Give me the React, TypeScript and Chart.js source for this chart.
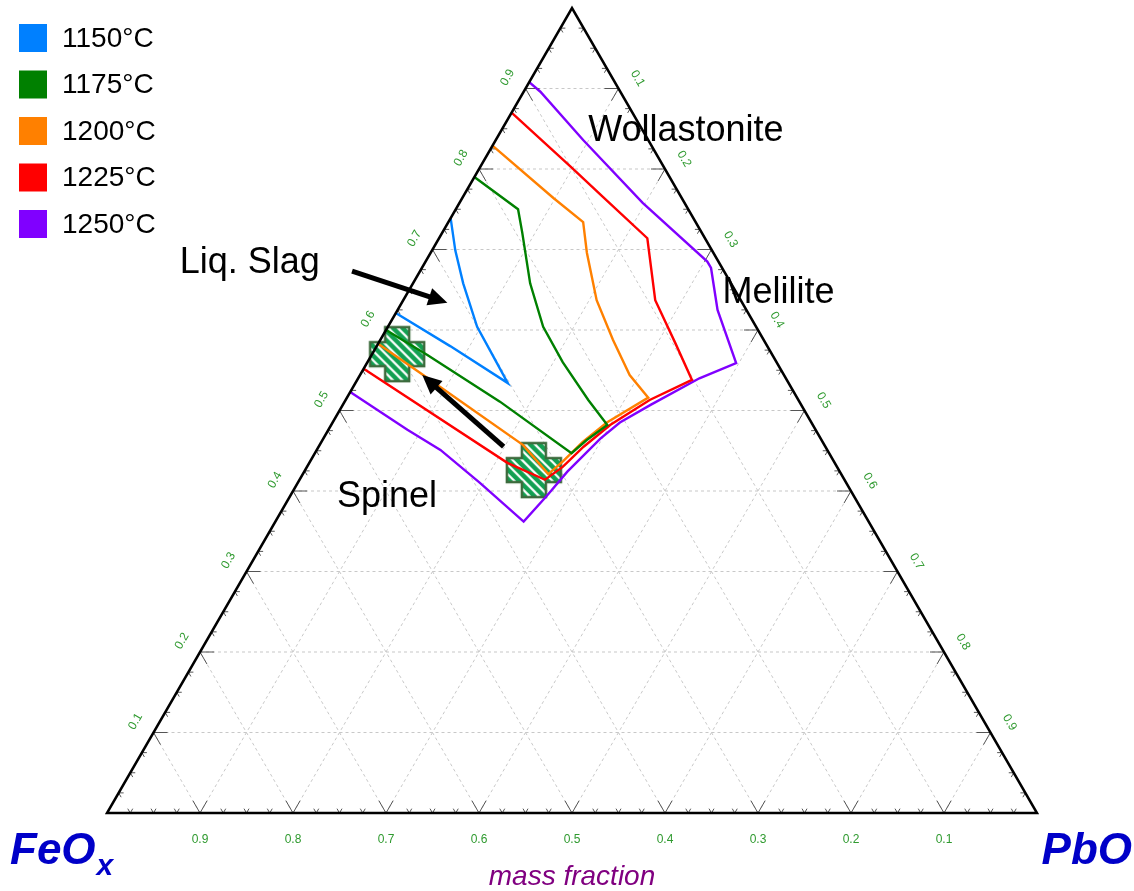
import React, { useEffect, useRef } from 'react';
import { Chart, registerables } from 'chart.js';

Chart.register(...registerables);

const H = Math.sqrt(3) / 2;
const FONT = '"Liberation Sans", Arial, sans-serif';

// ---- axis ticks (mass fraction) ----
const TICK_VALUES = [0.1, 0.2, 0.3, 0.4, 0.5, 0.6, 0.7, 0.8, 0.9];
const BOTTOM_LABELS = ['0.9', '0.8', '0.7', '0.6', '0.5', '0.4', '0.3', '0.2', '0.1'];
const LEFT_LABELS = ['0.1', '0.2', '0.3', '0.4', '0.5', '0.6', '0.7', '0.8', '0.9'];
const RIGHT_LABELS = ['0.1', '0.2', '0.3', '0.4', '0.5', '0.6', '0.7', '0.8', '0.9'];
const CORNER_LEFT = 'FeO';
const CORNER_LEFT_SUB = 'x';
const CORNER_RIGHT = 'PbO';
const AXIS_TITLE = 'mass fraction';

// ---- series ----
const SERIES_LABELS = ['1150°C', '1175°C', '1200°C', '1225°C', '1250°C'];
const SERIES_COLORS = ['#0080ff', '#008000', '#ff8000', '#ff0000', '#8000ff'];

// compositions: [top-component fraction, PbO fraction]
const iso1150 = [
  [0.739, 0.0], [0.699, 0.025], [0.658, 0.054], [0.604, 0.096], [0.567, 0.132],
  [0.534, 0.164], [0.580, 0.079], [0.621, 0.0],
];
const iso1175 = [
  [0.790, 0.0], [0.750, 0.067], [0.721, 0.086], [0.658, 0.126], [0.604, 0.167],
  [0.560, 0.210], [0.513, 0.261], [0.482, 0.297], [0.463, 0.284], [0.447, 0.276],
  [0.511, 0.167], [0.569, 0.060], [0.600, 0.0],
];
const iso1200 = [
  [0.829, 0.0], [0.764, 0.098], [0.734, 0.145], [0.696, 0.168], [0.637, 0.208],
  [0.588, 0.250], [0.544, 0.290], [0.516, 0.324], [0.485, 0.295], [0.461, 0.281],
  [0.437, 0.272], [0.421, 0.264], [0.457, 0.219], [0.547, 0.063], [0.583, 0.0],
];
const iso1225 = [
  [0.870, 0.0], [0.803, 0.097], [0.765, 0.151], [0.714, 0.224], [0.637, 0.271],
  [0.584, 0.319], [0.538, 0.360], [0.513, 0.327], [0.482, 0.300], [0.455, 0.285],
  [0.430, 0.275], [0.414, 0.264], [0.435, 0.213], [0.552, 0.0],
];
const iso1250 = [
  [0.908, 0.0], [0.896, 0.018], [0.836, 0.094], [0.758, 0.197], [0.685, 0.303],
  [0.677, 0.311], [0.625, 0.344], [0.559, 0.397], [0.540, 0.367], [0.507, 0.331],
  [0.485, 0.309], [0.465, 0.298], [0.424, 0.283], [0.394, 0.276], [0.362, 0.267],
  [0.410, 0.196], [0.451, 0.133], [0.476, 0.085], [0.523, 0.0],
];
const SERIES = [iso1150, iso1175, iso1200, iso1225, iso1250];

// experimental points (hatched crosses)
const MARKERS = [[0.570, 0.027], [0.426, 0.246]];

// annotation arrows: [tail, head] compositions
const ARROWS = [
  [[0.673, -0.073], [0.634, 0.049]],
  [[0.455, 0.199], [0.544, 0.067]],
];

// region labels
const REGION_LABELS = ['Wollastonite', 'Melilite', 'Liq. Slag', 'Spinel'];
const REGION_POS = [[0.851, 0.197], [0.650, 0.397], [0.687, -0.190], [0.396, 0.103]];

const toXY = (t: number, p: number) => ({ x: p + t / 2, y: t * H });

function makeCross(): HTMLCanvasElement {
  const S = 58;
  const c = document.createElement('canvas');
  c.width = S;
  c.height = S;
  const g = c.getContext('2d')!;
  const W = 54, a = 15, b = 39;
  const pts = [[a, 0], [b, 0], [b, a], [W, a], [W, b], [b, b], [b, W], [a, W], [a, b], [0, b], [0, a], [a, a]];
  g.translate(2, 2);
  const path = () => {
    g.beginPath();
    pts.forEach(([x, y], i) => (i ? g.lineTo(x, y) : g.moveTo(x, y)));
    g.closePath();
  };
  path();
  g.fillStyle = '#ffffff';
  g.fill();
  g.save();
  path();
  g.clip();
  g.strokeStyle = '#12a052';
  g.lineWidth = 4.5;
  for (let d = -W; d < 2 * W; d += 9.5) {
    g.beginPath();
    g.moveTo(d, 0);
    g.lineTo(d + W, W);
    g.stroke();
  }
  g.restore();
  path();
  g.strokeStyle = '#3d6b3d';
  g.lineWidth = 2.5;
  g.stroke();
  return c;
}

const ternaryPlugin = {
  id: 'ternaryFrame',
  beforeDatasetsDraw(chart: any) {
    const ctx = chart.ctx as CanvasRenderingContext2D;
    const sx = chart.scales.x, sy = chart.scales.y;
    const px = (t: number, p: number) => [sx.getPixelForValue(p + t / 2), sy.getPixelForValue(t * H)];
    const line = (a: number[], b: number[]) => {
      ctx.beginPath();
      ctx.moveTo(a[0], a[1]);
      ctx.lineTo(b[0], b[1]);
      ctx.stroke();
    };
    ctx.save();
    ctx.strokeStyle = '#c8c8c8';
    ctx.lineWidth = 1;
    ctx.setLineDash([3, 3]);
    TICK_VALUES.forEach((v) => {
      line(px(v, 0), px(v, 1 - v));
      line(px(0, v), px(1 - v, v));
      line(px(0, 1 - v), px(1 - v, 0));
    });
    ctx.setLineDash([]);
    // ticks
    ctx.strokeStyle = '#555555';
    ctx.lineWidth = 1;
    const s3 = Math.sqrt(3) / 2;
    for (let k = 1; k < 40; k++) {
      const f = k / 40;
      const len = k % 4 === 0 ? 14 : 5;
      const edges: [number[], number[][]][] = [
        [px(0, f), [[0.5, -s3], [-0.5, -s3]]],
        [px(f, 0), [[1, 0], [0.5, s3]]],
        [px(1 - f, f), [[-1, 0], [-0.5, s3]]],
      ];
      edges.forEach(([pt, dirs]) => {
        dirs.forEach((d) => line(pt, [pt[0] + d[0] * len, pt[1] + d[1] * len]));
      });
    }
    ctx.restore();
  },
  afterDatasetsDraw(chart: any) {
    const ctx = chart.ctx as CanvasRenderingContext2D;
    const sx = chart.scales.x, sy = chart.scales.y;
    const px = (t: number, p: number) => [sx.getPixelForValue(p + t / 2), sy.getPixelForValue(t * H)];
    ctx.save();
    // triangle border
    const L = px(0, 0), R = px(0, 1), T = px(1, 0);
    ctx.strokeStyle = '#000000';
    ctx.lineWidth = 2.5;
    ctx.lineJoin = 'miter';
    ctx.beginPath();
    ctx.moveTo(L[0], L[1]);
    ctx.lineTo(R[0], R[1]);
    ctx.lineTo(T[0], T[1]);
    ctx.closePath();
    ctx.stroke();

    // tick labels
    ctx.fillStyle = '#2f9a2f';
    ctx.font = `12px ${FONT}`;
    ctx.textAlign = 'center';
    ctx.textBaseline = 'middle';
    TICK_VALUES.forEach((v, i) => {
      const b = px(0, v);
      ctx.fillText(BOTTOM_LABELS[i], b[0], b[1] + 27);
      const l = px(v, 0);
      ctx.save();
      ctx.translate(l[0] - 18, l[1] - 11);
      ctx.rotate(-Math.PI / 3);
      ctx.fillText(LEFT_LABELS[i], 0, 0);
      ctx.restore();
      const r = px(1 - v, v);
      ctx.save();
      ctx.translate(r[0] + 19, r[1] - 10);
      ctx.rotate(Math.PI / 3);
      ctx.fillText(RIGHT_LABELS[i], 0, 0);
      ctx.restore();
    });

    // arrows
    ctx.fillStyle = '#000000';
    ctx.strokeStyle = '#000000';
    ctx.lineWidth = 5;
    ARROWS.forEach(([tail, head]) => {
      const a = px(tail[0], tail[1]);
      const b = px(head[0], head[1]);
      const ang = Math.atan2(b[1] - a[1], b[0] - a[0]);
      const hl = 19, hw = 9;
      const bx = b[0] - hl * Math.cos(ang), by = b[1] - hl * Math.sin(ang);
      ctx.beginPath();
      ctx.moveTo(a[0], a[1]);
      ctx.lineTo(bx + 2 * Math.cos(ang), by + 2 * Math.sin(ang));
      ctx.stroke();
      ctx.beginPath();
      ctx.moveTo(b[0], b[1]);
      ctx.lineTo(bx + hw * Math.sin(ang), by - hw * Math.cos(ang));
      ctx.lineTo(bx - hw * Math.sin(ang), by + hw * Math.cos(ang));
      ctx.closePath();
      ctx.fill();
    });

    // region labels
    ctx.fillStyle = '#000000';
    ctx.font = `36px ${FONT}`;
    ctx.textAlign = 'center';
    ctx.textBaseline = 'alphabetic';
    REGION_LABELS.forEach((txt, i) => {
      const q = px(REGION_POS[i][0], REGION_POS[i][1]);
      ctx.fillText(txt, q[0], q[1] + 13);
    });

    // corner labels
    ctx.fillStyle = '#0000c8';
    ctx.textAlign = 'left';
    ctx.font = `italic bold 44px ${FONT}`;
    ctx.fillText(CORNER_LEFT, L[0] - 97, L[1] + 51);
    const w = ctx.measureText(CORNER_LEFT).width;
    ctx.font = `italic bold 30px ${FONT}`;
    ctx.fillText(CORNER_LEFT_SUB, L[0] - 97 + w + 1, L[1] + 62);
    ctx.textAlign = 'right';
    ctx.font = `italic bold 44px ${FONT}`;
    ctx.fillText(CORNER_RIGHT, R[0] + 95, R[1] + 51);

    // axis title
    ctx.fillStyle = '#800080';
    ctx.textAlign = 'center';
    ctx.font = `italic 28px ${FONT}`;
    ctx.fillText(AXIS_TITLE, (L[0] + R[0]) / 2, L[1] + 72);

    // legend
    ctx.textAlign = 'left';
    ctx.textBaseline = 'middle';
    ctx.font = `28px ${FONT}`;
    SERIES_LABELS.forEach((lab, i) => {
      const cy = 38 + i * 46.5;
      ctx.fillStyle = SERIES_COLORS[i];
      ctx.fillRect(19, cy - 14, 28, 28);
      ctx.fillStyle = '#000000';
      ctx.fillText(lab, 62, cy + 1);
    });
    ctx.restore();
  },
};

export default function App() {
  const ref = useRef<HTMLCanvasElement>(null);
  useEffect(() => {
    if (!ref.current) return;
    const cross = makeCross();
    const datasets: any[] = SERIES.map((pts, i) => ({
      label: SERIES_LABELS[i],
      data: pts.map(([t, p]) => toXY(t, p)),
      showLine: true,
      borderColor: SERIES_COLORS[i],
      backgroundColor: SERIES_COLORS[i],
      borderWidth: 2.4,
      pointRadius: 0,
      pointHoverRadius: 0,
      tension: 0,
      fill: false,
    }));
    datasets.push({
      label: 'Experiment',
      data: MARKERS.map(([t, p]) => toXY(t, p)),
      showLine: false,
      pointStyle: cross,
      pointRadius: 27,
      pointHoverRadius: 27,
    });
    const chart = new Chart(ref.current, {
      type: 'scatter',
      data: { datasets },
      options: {
        responsive: false,
        animation: false,
        devicePixelRatio: 1,
        layout: { autoPadding: false, padding: { left: 107, right: 97, top: 8, bottom: 78 } },
        scales: {
          x: { type: 'linear', min: 0, max: 1, display: false },
          y: { type: 'linear', min: 0, max: H, display: false },
        },
        plugins: { legend: { display: false }, tooltip: { enabled: false } },
      },
      plugins: [ternaryPlugin],
    });
    return () => chart.destroy();
  }, []);
  return (
    <div style={{ position: 'fixed', left: 0, top: 0, width: 1134, height: 891, background: '#ffffff' }}>
      <canvas ref={ref} width={1134} height={891} />
    </div>
  );
}
